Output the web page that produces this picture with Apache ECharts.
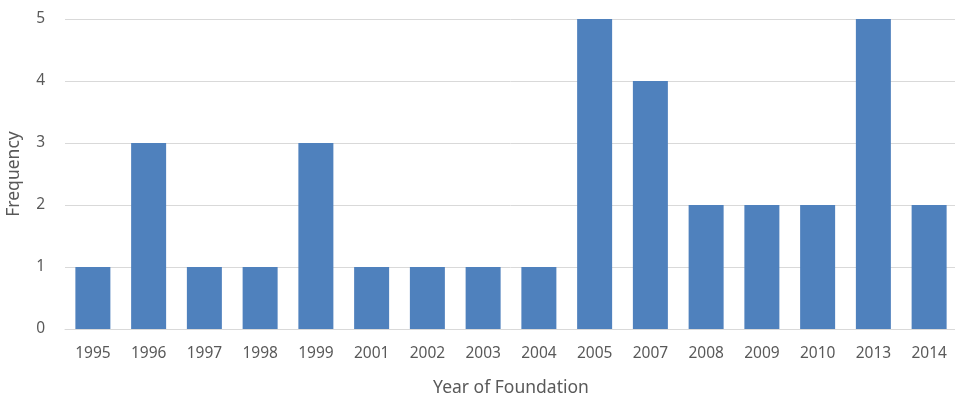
<!DOCTYPE html>
<html>
<head>
<meta charset="utf-8">
<script src="https://cdn.jsdelivr.net/npm/echarts@6/dist/echarts.min.js"></script>
<style>
  html, body { margin: 0; padding: 0; background: #fff; }
  #chart { width: 955px; height: 397px; }
</style>
</head>
<body>
<div id="chart"></div>
<script>
// Companies per founding year
const years = ['1995', '1996', '1997', '1998', '1999', '2001', '2002', '2003', '2004', '2005', '2007', '2008', '2009', '2010', '2013', '2014'];
const frequency = [1, 3, 1, 1, 3, 1, 1, 1, 1, 5, 4, 2, 2, 2, 5, 2];
const yTicks = [0, 1, 2, 3, 4, 5];

const textColor = '#595959';
const font = 'Noto Sans';

const chart = echarts.init(document.getElementById('chart'));
chart.setOption({
  animation: false,
  grid: { left: 65, right: -2, top: 19, bottom: 68, containLabel: false, outerBoundsMode: 'none' },
  xAxis: {
    type: 'category',
    data: years,
    name: 'Year of Foundation',
    nameLocation: 'middle',
    nameGap: 50,
    nameTextStyle: { color: textColor, fontFamily: font, fontSize: 17.5 },
    axisLine: { show: true, lineStyle: { color: '#d9d9d9', width: 1 } },
    axisTick: { show: false },
    axisLabel: { color: textColor, fontFamily: font, fontSize: 15.5, margin: 17, interval: 0 }
  },
  yAxis: {
    type: 'value',
    min: yTicks[0],
    max: yTicks[yTicks.length - 1],
    interval: 1,
    name: 'Frequency',
    nameLocation: 'middle',
    nameGap: 42,
    nameTextStyle: { color: textColor, fontFamily: font, fontSize: 17.5 },
    axisLine: { show: false },
    axisTick: { show: false },
    axisLabel: { color: textColor, fontFamily: font, fontSize: 15.5, margin: 20 },
    splitLine: { lineStyle: { color: '#d9d9d9', width: 1 } }
  },
  series: [{
    type: 'bar',
    data: frequency,
    barWidth: 35,
    itemStyle: { color: '#4f81bd' }
  }]
});
</script>
</body>
</html>
